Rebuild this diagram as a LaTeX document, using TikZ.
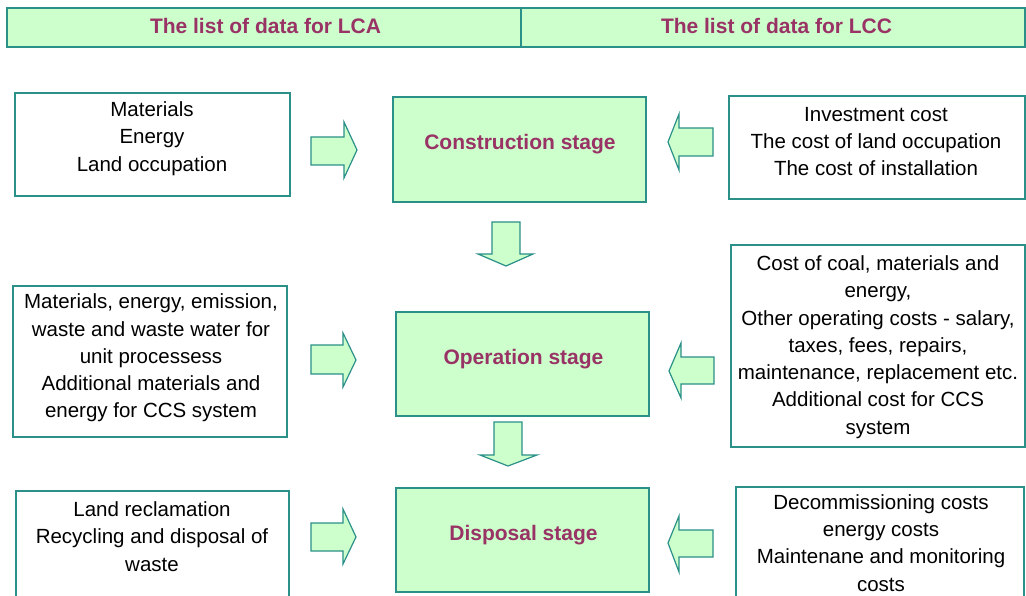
\documentclass[tikz,border=0pt]{standalone}
\usepackage{fontspec}
\setmainfont{Liberation Sans}
\begin{document}
\definecolor{edge}{HTML}{2A9088}
\definecolor{mint}{HTML}{CCFFCC}
\definecolor{plum}{HTML}{993366}
\begin{tikzpicture}[x=1pt,y=-1pt,
  whitebox/.style={draw=edge,line width=1.2pt,fill=white,inner sep=0pt},
  stagebox/.style={draw=edge,line width=1.2pt,fill=mint,inner sep=0pt},
  headbox/.style={draw=edge,line width=1.6pt,fill=mint,inner sep=0pt},
  plain/.style={align=center,inner sep=0pt,font=\fontsize{20.5}{27.3}\selectfont},
  stagetext/.style={inner sep=0pt,text=plum,font=\fontsize{21}{25}\selectfont\bfseries},
  blockarrow/.style={draw=edge,line width=1.2pt,fill=mint,line join=miter}]
\useasboundingbox (0,0) rectangle (1026,596);

% header bar
\node[headbox,minimum width=514,minimum height=39] (hA) at (264,27.5) {};
\node[headbox,minimum width=504,minimum height=39] (hB) at (773,27.5) {};
\node[stagetext] (tA) at (265.5,26) {The list of data for LCA};
\node[stagetext] (tB) at (776.5,26) {The list of data for LCC};

% LCA inputs (left column)
\node[whitebox,minimum width=275,minimum height=103] (lca1) at (152.5,144.5) {};
\node[whitebox,minimum width=274,minimum height=151] (lca2) at (150,361.5) {};
\node[whitebox,minimum width=273,minimum height=129] (lca3) at (152.5,555.5) {};
\node[plain] (lcaT1) at (152,138.5) {Materials\\Energy\\Land occupation};
\node[plain] (lcaT2) at (151,358) {Materials, energy, emission,\\waste and waste water for\\unit processess\\Additional materials and\\energy for CCS system};
\node[plain] (lcaT3) at (152,536.5) {Land reclamation\\Recycling and disposal of\\waste};

% life-cycle stages (middle column)
\node[stagebox,minimum width=253,minimum height=105] (con) at (519.5,149.5) {};
\node[stagebox,minimum width=253,minimum height=104] (op) at (522.5,364) {};
\node[stagebox,minimum width=253,minimum height=104] (disp) at (522.5,540) {};
\node[stagetext] (conT) at (520,144.5) {Construction stage};
\node[stagetext] (opT) at (523.5,359.5) {Operation stage};
\node[stagetext] (dispT) at (523.5,535.5) {Disposal stage};

% LCC inputs (right column)
\node[whitebox,minimum width=296,minimum height=103] (lcc1) at (877,147.5) {};
\node[whitebox,minimum width=294,minimum height=202] (lcc2) at (878,346) {};
\node[whitebox,minimum width=288,minimum height=133] (lcc3) at (880,553.5) {};
\node[plain] (lccT1) at (876,141.5) {Investment cost\\The cost of land occupation\\The cost of installation};
\node[plain] (lccT2) at (878,347) {Cost of coal, materials and\\energy,\\Other operating costs - salary,\\taxes, fees, repairs,\\maintenance, replacement etc.\\Additional cost for CCS\\system};
\node[plain] (lccT3) at (881,543) {Decommissioning costs\\energy costs\\Maintenane and monitoring\\costs};

% block arrows pointing right (LCA -> stage)
\draw[blockarrow] (311,137) -- (344,137) -- (344,122) -- (357,150) -- (344,178) -- (344,165) -- (311,165) -- cycle;
\draw[blockarrow] (311,345) -- (343,345) -- (343,333) -- (356,360) -- (343,387) -- (343,374) -- (311,374) -- cycle;
\draw[blockarrow] (311,523) -- (343,523) -- (343,509) -- (356,537) -- (343,564) -- (343,551) -- (311,551) -- cycle;

% block arrows pointing left (LCC -> stage)
\draw[blockarrow] (713,128) -- (679,128) -- (679,114) -- (668,142) -- (679,170) -- (679,156) -- (713,156) -- cycle;
\draw[blockarrow] (714,357) -- (681,357) -- (681,343) -- (669,371) -- (681,398) -- (681,384) -- (714,384) -- cycle;
\draw[blockarrow] (713,530) -- (679,530) -- (679,516) -- (668,543) -- (679,572) -- (679,557) -- (713,557) -- cycle;

% block arrows pointing down (stage -> stage)
\draw[blockarrow] (492,222) -- (520,222) -- (520,254) -- (533,254) -- (506,266) -- (478,254) -- (492,254) -- cycle;
\draw[blockarrow] (494,422) -- (522,422) -- (522,455) -- (537,455) -- (508,466) -- (480,455) -- (494,455) -- cycle;
\end{tikzpicture}
\end{document}
